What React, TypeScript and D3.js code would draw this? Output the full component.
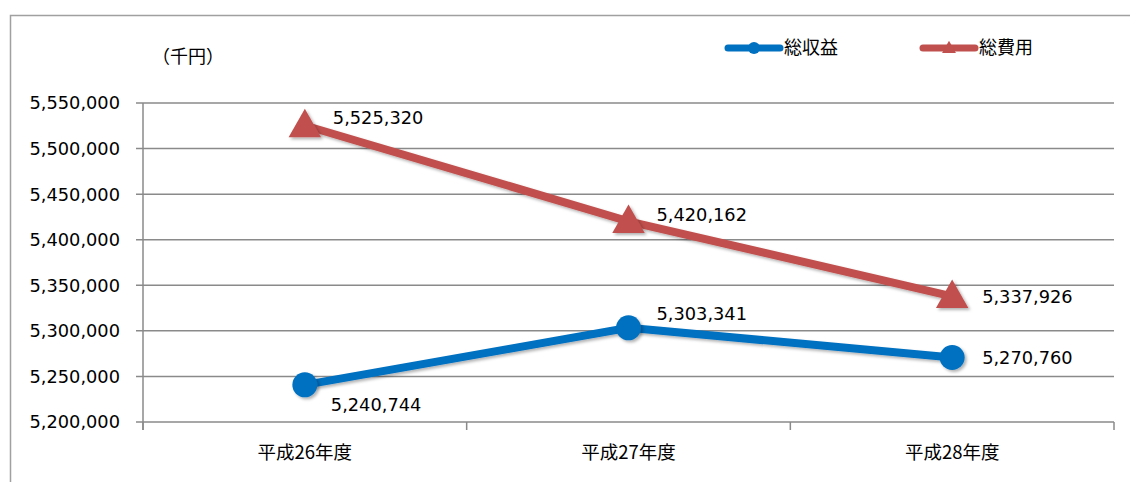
import React from "react";
import * as d3 from "d3";

const categories = ["平成26年度", "平成27年度", "平成28年度"];
const revenue = [5240744, 5303341, 5270760];
const expense = [5525320, 5420162, 5337926];
const yTicks = [5200000, 5250000, 5300000, 5350000, 5400000, 5450000, 5500000, 5550000];
const seriesNames = ["総収益", "総費用"];
const unitLabel = "（千円）";

const BLUE = "#0070C0";
const RED = "#C0504D";

// layout: label offsets (dx, dy) relative to each point
const revLabelOffsets = [[26, 20], [28, -14], [30, 0]];
const expLabelOffsets = [[28, -8], [28, -7], [30, 0]];

export default function App() {
  const W = 1130, H = 482;
  const left = 143, right = 1114, top = 103, bottom = 422;
  const x = d3.scaleBand<string>().domain(categories).range([left, right]);
  const y = d3.scaleLinear().domain([5200000, 5550000]).range([bottom, top]);
  const fmt = d3.format(",");
  const cx = (c: string) => (x(c) as number) + x.bandwidth() / 2;
  const line = d3.line<number>().x((_, i) => cx(categories[i])).y((v) => y(v));
  const numFont = "'DejaVu Sans', Verdana, sans-serif";
  const cjkFont = "'Noto Sans CJK JP', sans-serif";
  const NUM = 17.8;
  const tri = (px: number, py: number, s: number) =>
    `M${px},${py - s * 0.6}L${px + s * 0.58},${py + s * 0.42}L${px - s * 0.58},${py + s * 0.42}Z`;
  const ticksX = [...categories.map((c) => x(c) as number), right];

  return (
    <svg width={W} height={H} style={{ position: "absolute", left: 0, top: 0, background: "#fff" }}>
      <defs>
        <filter id="sh" x="-50%" y="-50%" width="200%" height="200%">
          <feDropShadow dx="2" dy="2" stdDeviation="1.5" floodColor="#000" floodOpacity="0.3" />
        </filter>
      </defs>
      <rect x={10.5} y={15.5} width={1200} height={600} fill="#fff" stroke="#a0a0a0" strokeWidth={1.5} />
      {yTicks.map((t) => (
        <g key={t}>
          <line x1={136} x2={right} y1={y(t)} y2={y(t)} stroke="#8a8a8a" strokeWidth={1.5} />
          <text x={120} y={y(t)} dy="0.36em" textAnchor="end" fontFamily={numFont} fontSize={NUM} fill="#000">
            {fmt(t)}
          </text>
        </g>
      ))}
      <line x1={left} x2={left} y1={top} y2={bottom + 8} stroke="#8a8a8a" strokeWidth={1.5} />
      {ticksX.map((tx, i) => (
        <line key={i} x1={tx} x2={tx} y1={bottom} y2={bottom + 8} stroke="#8a8a8a" strokeWidth={1.5} />
      ))}
      {categories.map((c) => (
        <text key={c} x={cx(c)} y={453} dy="0.35em" textAnchor="middle" fontFamily={cjkFont} fontSize={18.5} fill="#000">
          {c}
        </text>
      ))}
      <text x={152} y={57} dy="0.35em" fontFamily={cjkFont} fontSize={18} fill="#000">{unitLabel}</text>

      <path d={line(expense) || ""} fill="none" stroke={RED} strokeWidth={8} filter="url(#sh)" />
      <path d={line(revenue) || ""} fill="none" stroke={BLUE} strokeWidth={8} filter="url(#sh)" />
      {expense.map((v, i) => (
        <path key={i} d={tri(cx(categories[i]), y(v), 28)} fill={RED} filter="url(#sh)" />
      ))}
      {revenue.map((v, i) => (
        <circle key={i} cx={cx(categories[i])} cy={y(v)} r={12.5} fill={BLUE} filter="url(#sh)" />
      ))}
      {expense.map((v, i) => (
        <text key={i} x={cx(categories[i]) + expLabelOffsets[i][0]} y={y(v) + expLabelOffsets[i][1]} dy="0.36em"
          fontFamily={numFont} fontSize={NUM} fill="#000">{fmt(v)}</text>
      ))}
      {revenue.map((v, i) => (
        <text key={i} x={cx(categories[i]) + revLabelOffsets[i][0]} y={y(v) + revLabelOffsets[i][1]} dy="0.36em"
          fontFamily={numFont} fontSize={NUM} fill="#000">{fmt(v)}</text>
      ))}

      <g>
        <line x1={728} x2={780} y1={48} y2={48} stroke={BLUE} strokeWidth={7} strokeLinecap="round" />
        <circle cx={754} cy={48} r={6} fill={BLUE} />
        <text x={784} y={48} dy="0.35em" fontFamily={cjkFont} fontSize={18} fill="#000">{seriesNames[0]}</text>
        <line x1={923} x2={975} y1={48} y2={48} stroke={RED} strokeWidth={7} strokeLinecap="round" />
        <path d={tri(949, 48, 12)} fill={RED} />
        <text x={979} y={48} dy="0.35em" fontFamily={cjkFont} fontSize={18} fill="#000">{seriesNames[1]}</text>
      </g>
    </svg>
  );
}
